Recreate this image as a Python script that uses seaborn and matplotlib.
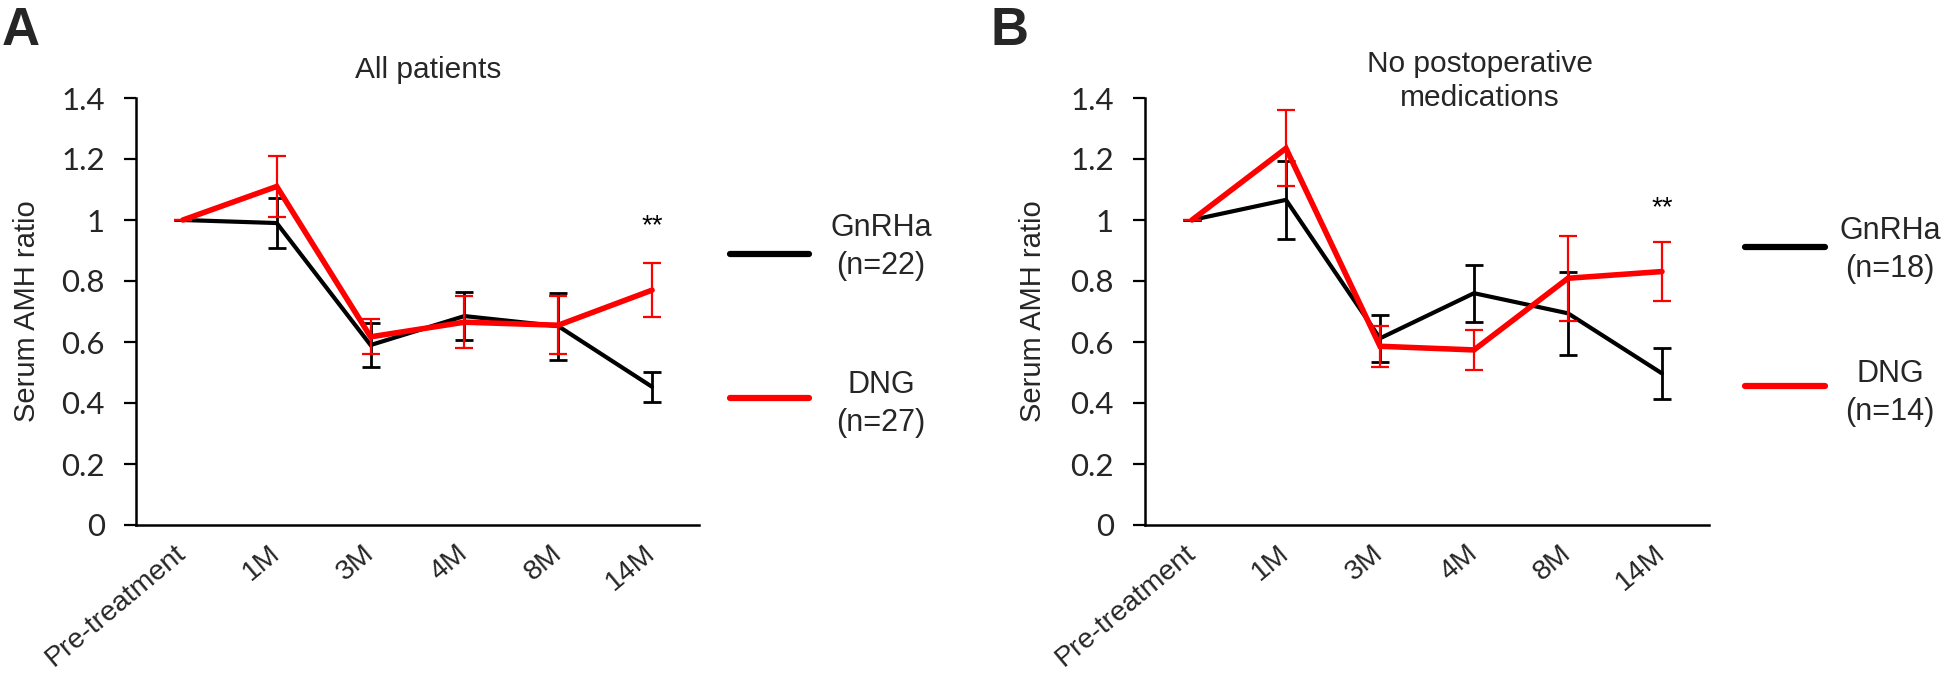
import numpy as np
import pandas as pd
import matplotlib
matplotlib.use("Agg")
import matplotlib.pyplot as plt
import seaborn as sns
from matplotlib.lines import Line2D

# ---------------- data ----------------
timepoints = ["Pre-treatment", "1M", "3M", "4M", "8M", "14M"]

a_gnrha = [1.0, 0.99, 0.59, 0.685, 0.652, 0.453]
a_gnrha_err = [0.0, 0.083, 0.072, 0.078, 0.11, 0.05]
a_dng = [1.0, 1.11, 0.617, 0.665, 0.655, 0.77]
a_dng_err = [0.0, 0.10, 0.057, 0.086, 0.095, 0.089]

b_gnrha = [1.0, 1.066, 0.612, 0.76, 0.694, 0.497]
b_gnrha_err = [0.0, 0.127, 0.078, 0.094, 0.135, 0.083]
b_dng = [1.0, 1.235, 0.586, 0.574, 0.809, 0.831]
b_dng_err = [0.0, 0.125, 0.068, 0.066, 0.14, 0.096]

a_labels = ["GnRHa\n(n=22)", "DNG\n(n=27)"]
b_labels = ["GnRHa\n(n=18)", "DNG\n(n=14)"]
titles = ["All patients", "No postoperative\nmedications"]
panel_letters = ["A", "B"]
yticks = [0, 0.2, 0.4, 0.6, 0.8, 1.0, 1.2, 1.4]
ytick_labels = ["0", "0.2", "0.4", "0.6", "0.8", "1", "1.2", "1.4"]

sns.set_theme(style="white")
plt.rcParams["font.family"] = ["Liberation Sans", "DejaVu Sans"]

W, H = 1944, 675
fig = plt.figure(figsize=(W / 100, H / 100), dpi=100)

def px_axes(l, r, t, b):
    return fig.add_axes([l / W, 1 - b / H, (r - l) / W, (b - t) / H])

axA = px_axes(136, 699, 98, 525)
axB = px_axes(1145, 1709, 98, 525)

colors = {"GnRHa": "black", "DNG": "#ff0000"}
lws = {"GnRHa": 3.0, "DNG": 4.0}

def draw(ax, g, ge, d, de, labels, legend_pos, star_y, title, title_pos, letter, letter_x, ylab_x):
    df = pd.DataFrame({
        "time": timepoints * 2,
        "value": g + d,
        "group": ["GnRHa"] * len(g) + ["DNG"] * len(d),
    })
    xpos = np.arange(len(timepoints))
    for grp, vals, errs, z in [("GnRHa", g, ge, 2), ("DNG", d, de, 3)]:
        sub = df[df["group"] == grp]
        sns.lineplot(data=sub, x="time", y="value", color=colors[grp],
                     linewidth=lws[grp], ax=ax, legend=False, zorder=z,
                     solid_joinstyle="miter", sort=False)
        ax.errorbar(xpos, vals, yerr=errs, fmt="none", ecolor=colors[grp],
                    elinewidth=2.0 if grp == "GnRHa" else 1.6,
                    capsize=6.5, capthick=2.0 if grp == "GnRHa" else 1.6,
                    zorder=z)
    ax.set_xlim(-0.5, len(timepoints) - 0.5)
    ax.set_ylim(0, 1.4)
    ax.set_yticks(yticks)
    ax.set_yticklabels(ytick_labels, fontfamily="Lato", fontsize=22.5)
    ax.set_xticks(xpos)
    ax.set_xticklabels(timepoints, rotation=40, ha="right", va="center",
                       rotation_mode="anchor", fontsize=20.5)
    ax.tick_params(axis="y", direction="out", length=8.5, width=1.6,
                   color="black", pad=14, left=True)
    ax.tick_params(axis="x", length=0, pad=18)
    for s in ["top", "right"]:
        ax.spines[s].set_visible(False)
    for s in ["left", "bottom"]:
        ax.spines[s].set_color("black")
        ax.spines[s].set_linewidth(1.8)
    ax.set_xlabel("")
    ax.set_ylabel("Serum AMH ratio", fontsize=21)
    ax.yaxis.set_label_coords(ylab_x, 0.5)
    ax.patch.set_alpha(0)
    # significance marker
    ax.text(5, star_y, "**", ha="center", va="center", fontsize=20, color="black")
    # legend (outside the axes)
    (lx0, lx1, ly_g, ly_d, tx, ty_g, ty_d) = legend_pos
    for ly, grp in [(ly_g, "GnRHa"), (ly_d, "DNG")]:
        ax.add_line(Line2D([lx0, lx1], [ly, ly], transform=ax.transAxes,
                           color=colors[grp], linewidth=4.5,
                           solid_capstyle="round", clip_on=False))
    ax.text(tx, ty_g, labels[0], transform=ax.transAxes, ha="center",
            va="center", fontsize=22, linespacing=1.35, multialignment="center")
    ax.text(tx, ty_d, labels[1], transform=ax.transAxes, ha="center",
            va="center", fontsize=22, linespacing=1.35, multialignment="center")
    # title and letter
    fig.text(title_pos[0] / W, 1 - title_pos[1] / H, title, ha="center", va="top",
             fontsize=21.5, linespacing=1.25)
    fig.text(letter_x / W, 1 - 6 / H, letter, ha="left", va="top",
             fontsize=38, fontweight="bold")

draw(axA, a_gnrha, a_gnrha_err, a_dng, a_dng_err, a_labels,
     (1.055, 1.195, 0.635, 0.297, 1.323, 0.651, 0.283), 0.98,
     titles[0], (428, 56), panel_letters[0], 2, -0.168)
draw(axB, b_gnrha, b_gnrha_err, b_dng, b_dng_err, b_labels,
     (1.064, 1.205, 0.651, 0.326, 1.321, 0.643, 0.310), 1.04,
     titles[1], (1480, 50), panel_letters[1], 990, -0.174)

fig.savefig("out.png", dpi=100)
